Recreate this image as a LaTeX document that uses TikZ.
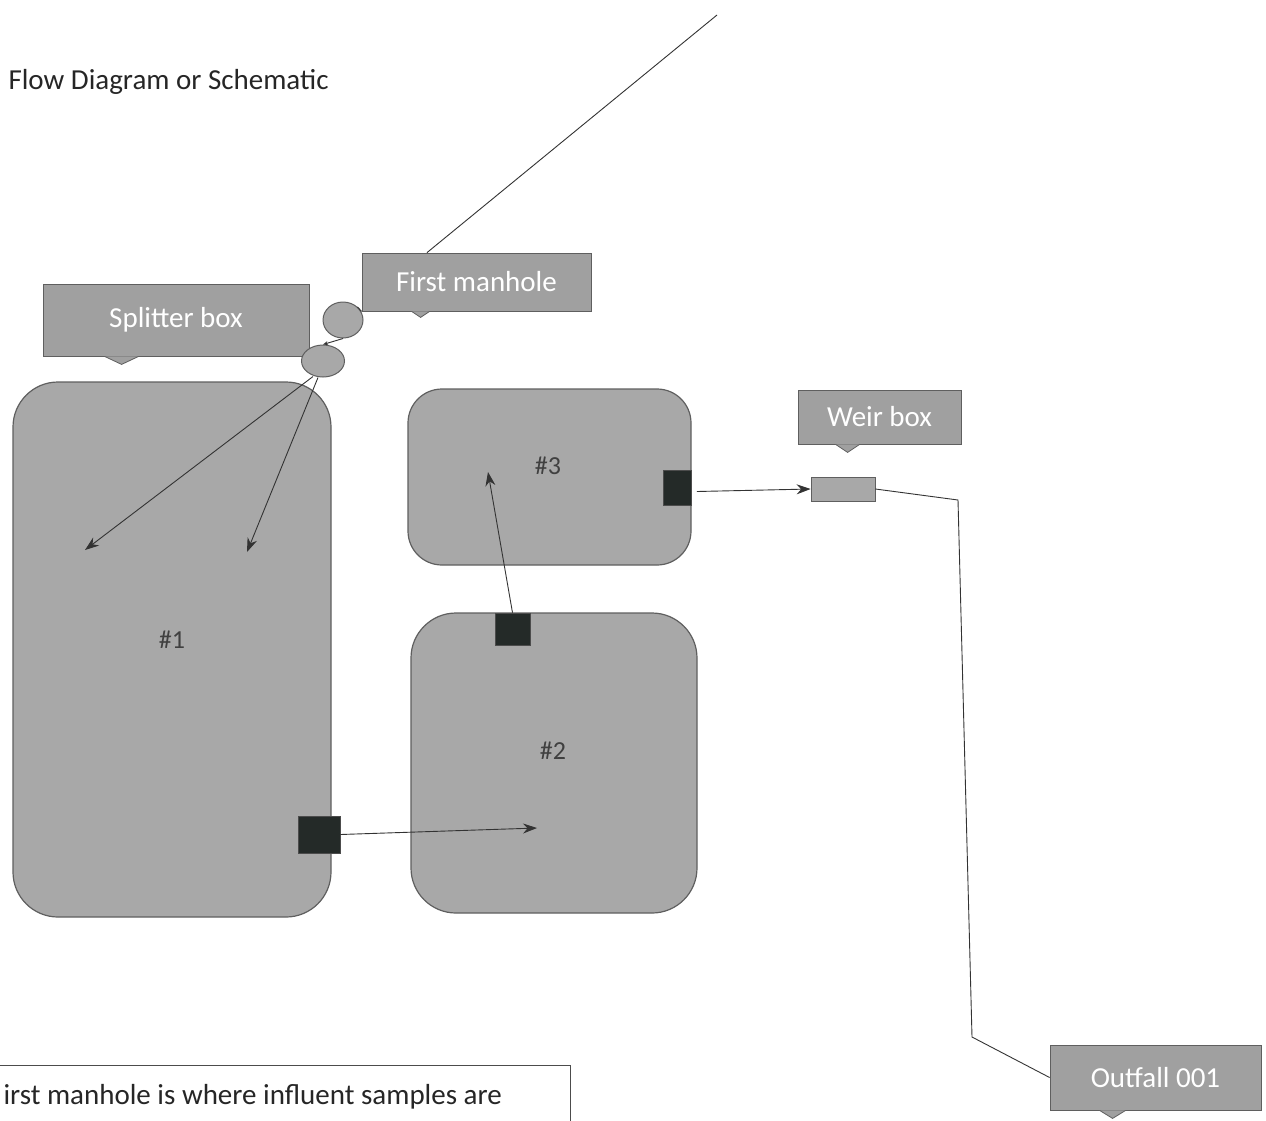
\documentclass[tikz,border=0pt]{standalone}
\usepackage{fontspec}
\setmainfont{Carlito}
\usetikzlibrary{arrows.meta,shapes.geometric,calc}
\definecolor{tankfill}{RGB}{168,168,168}
\definecolor{tankline}{RGB}{95,95,95}
\definecolor{callfill}{RGB}{160,160,160}
\definecolor{sqfill}{RGB}{36,42,40}
\tikzset{
  tank/.style={draw=tankline, line width=1.2pt, fill=tankfill, rectangle},
  callout/.style={draw=tankline, line width=0.8pt, fill=callfill, rectangle, text=white, font=\fontsize{29}{31}\selectfont, inner sep=0pt},
  pointer/.style={draw=tankline, line width=0.8pt, fill=callfill},
  valve/.style={draw=black!70, line width=0.6pt, fill=sqfill, rectangle, inner sep=0pt},
  pipe/.style={draw=black!80, line width=0.9pt},
  flow/.style={pipe, -{Stealth[length=14pt,width=10pt]}},
  mh/.style={draw=tankline, line width=1pt, fill=tankfill, ellipse, inner sep=0pt},
  tanklabel/.style={font=\fontsize{26}{28}\selectfont, text=black!75},
}
\begin{document}
\begin{tikzpicture}[x=1pt,y=-1pt]
\useasboundingbox (0,0) rectangle (1266,1120);
\clip (0,0) rectangle (1266,1120);
% title
\node[anchor=west, font=\fontsize{29}{31}\selectfont, text=black!85] (title) at (5,82) {Flow Diagram or Schematic};
% incoming line
\coordinate (inflow) at (717,15);
% callouts
\node[callout, minimum width=229pt, minimum height=58pt] (fm) at (476.5,282) {First manhole};
\node[callout, minimum width=266pt, minimum height=72pt] (sb) at (176,320) {Splitter box};
\node[callout, minimum width=163pt, minimum height=54pt] (wb) at (879.5,417) {Weir box};
\node[callout, minimum width=211pt, minimum height=65pt] (of) at (1155.5,1077.5) {Outfall 001};
\draw[pointer] (fm.south west) ++(50,0) -- ++(9,6) -- ++(9,-6);
\draw[pointer] (sb.south west) ++(62,0) -- ++(17,8) -- ++(17,-8);
\draw[pointer] (wb.south west) ++(38,0) -- ++(12,8) -- ++(12,-8);
\draw[pointer] (of.south west) ++(50,0) -- ++(13,8) -- ++(13,-8);
% tanks
\node[tank, minimum width=318pt, minimum height=535pt, rounded corners=45pt] (t1) at (172,649.5) {};
\node[tank, minimum width=283pt, minimum height=176pt, rounded corners=34pt] (t3) at (549.5,477) {};
\node[tank, minimum width=286pt, minimum height=300pt, rounded corners=45pt] (t2) at (554,763) {};
\node[tanklabel] (l1) at (172,640) {\#1};
\node[tanklabel] (l3) at (548,466) {\#3};
\node[tanklabel] (l2) at (553,751) {\#2};
% manholes
\node[mh, minimum width=40pt, minimum height=36pt] (m1) at (343,320) {};
\node[mh, minimum width=43pt, minimum height=32pt] (m2) at (323,361) {};
% valves
\node[valve, minimum width=42pt, minimum height=37pt] (v1) at (319,834.5) {};
\node[valve, minimum width=35pt, minimum height=32pt] (v2) at (512.5,629) {};
\node[valve, minimum width=28pt, minimum height=35pt] (v3) at (677.5,487.5) {};
% weir box
\node[draw=tankline, line width=0.8pt, fill=tankfill, minimum width=64pt, minimum height=24pt, inner sep=0pt] (wr) at (843,489) {};
% targets inside tanks
\coordinate (a1) at (85,550);
\coordinate (a2) at (247,552);
\coordinate (a3) at (537,828);
\coordinate (a4) at (488,472);
\coordinate (bend1) at (958,500);
\coordinate (bend2) at (972,1037);
% connectors
\draw[pipe] (inflow) -- (fm.north west -| 427,0);
\draw[pipe] (m1.north east) -- (fm.south west);
\draw[pipe, -{Stealth[length=5pt,width=4pt]}] (m1.south) -- (m2.north);
\draw[flow] (m2.south) ++(-10,-1) -- (a1);
\draw[flow] (m2.south) ++(-5,0) -- (a2);
\draw[flow] (v1.east) -- (a3);
\draw[flow] (v2.north) -- (a4);
\draw[flow] ($(v3.east)+(5,4)$) -- (wr.west);
\draw[pipe] (wr.east) -- (bend1) -- (bend2) -- (of.west);
% note box
\draw[line width=0.9pt, draw=black!70] (-20,1065) rectangle (570,1150);
\node[anchor=west, font=\fontsize{29}{31}\selectfont, text=black!85] (note) at (0,1097) {irst manhole is where influent samples are};
\end{tikzpicture}
\end{document}
